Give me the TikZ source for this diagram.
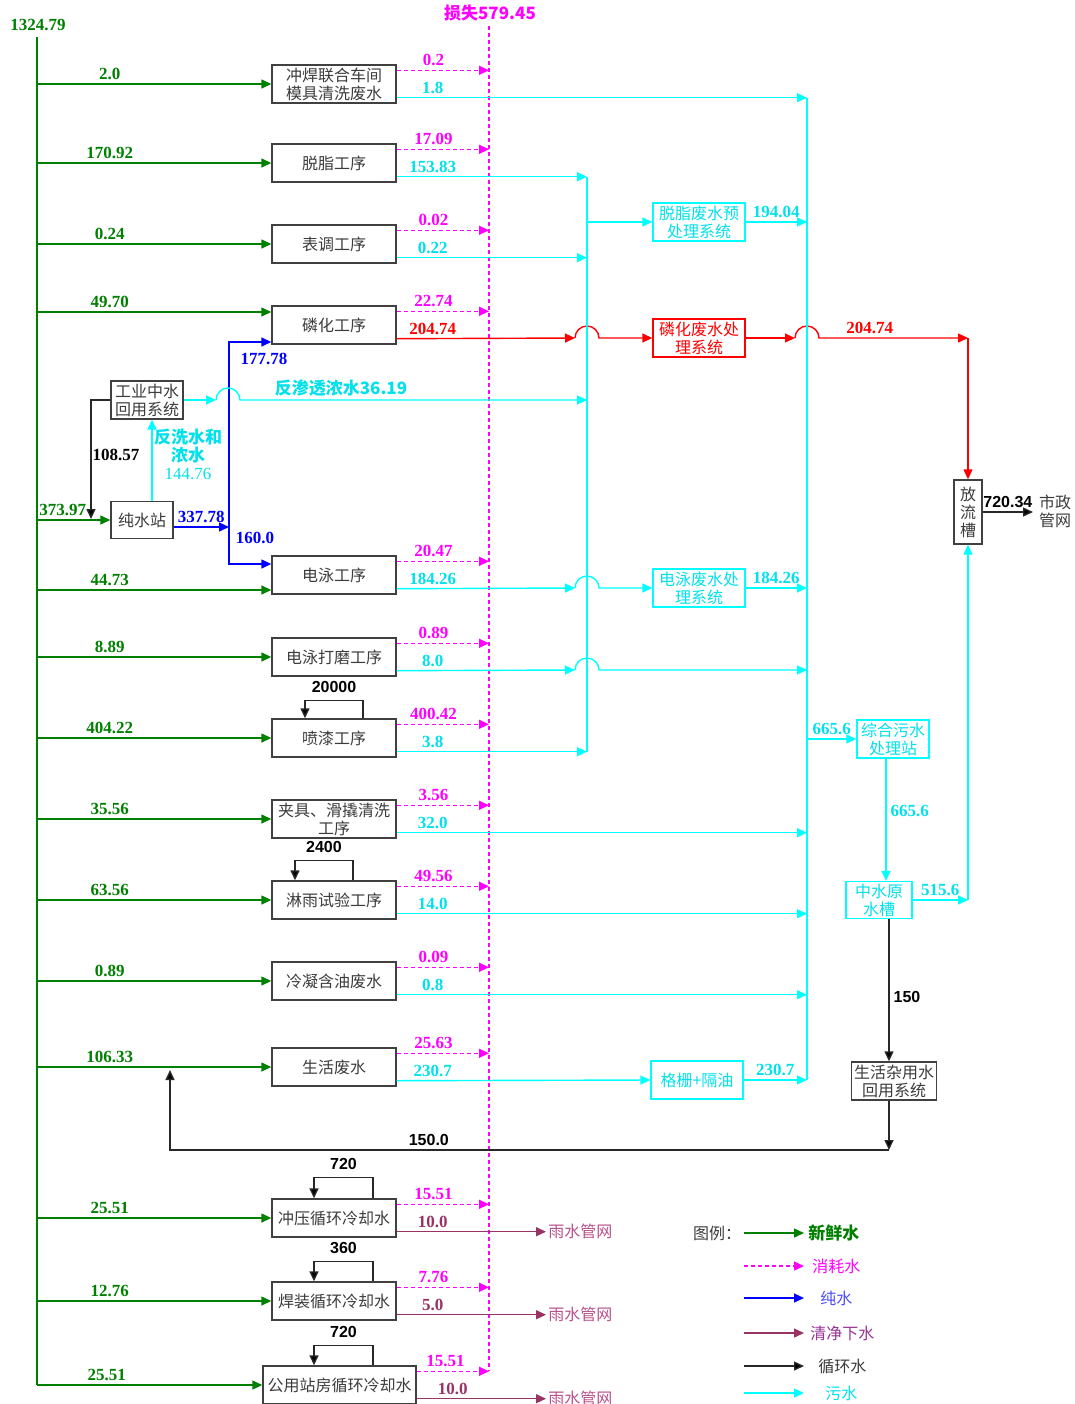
\documentclass[tikz,border=0pt]{standalone}
\usepackage{fontspec}
\setmainfont{Liberation Serif}
\setsansfont{Liberation Sans}
\newfontfamily\cjk{Noto Sans CJK SC}
\usetikzlibrary{arrows.meta}

\definecolor{cfresh}{RGB}{0,128,0}
\definecolor{closs}{RGB}{255,0,255}
\definecolor{cwaste}{RGB}{0,255,255}
\definecolor{cwastetxt}{RGB}{0,225,235}
\definecolor{cpure}{RGB}{0,0,255}
\definecolor{crain}{RGB}{153,51,102}
\definecolor{craintxt}{RGB}{185,80,140}
\definecolor{clegp}{RGB}{150,50,150}
\definecolor{ccyc}{RGB}{40,40,40}
\definecolor{cboxtxt}{RGB}{60,60,60}

\begin{document}
\begin{tikzpicture}[x=0.5pt, y=-0.5pt,
  flowtip/.style={-{Triangle[length=5pt,width=4.5pt]}},
  freshA/.style={draw=cfresh, line width=0.7pt, flowtip},
  lossA/.style={draw=closs, line width=0.7pt, dash pattern=on 2pt off 1.5pt, flowtip},
  wasteA/.style={draw=cwaste, line width=0.7pt, flowtip},
  redA/.style={draw=red, line width=0.7pt, flowtip},
  pureA/.style={draw=cpure, line width=0.7pt, flowtip},
  cycA/.style={draw=ccyc, line width=0.7pt, -{Triangle[length=5pt,width=4.5pt,fill=black]}},
  rainA/.style={draw=crain, line width=0.7pt, flowtip},
  box/.style={draw=black!75, line width=0.7pt, text=cboxtxt, font=\cjk\fontsize{8}{9}\selectfont,
    align=center, inner sep=0.5pt, minimum width=62pt, minimum height=19pt},
  wbox/.style={box, draw=cwaste, text=cwastetxt},
  rbox/.style={box, draw=red, text=red},
  lab/.style={font=\bfseries\fontsize{8.5}{9}\selectfont, inner sep=2pt},
  klab/.style={lab, text=black, font=\sffamily\bfseries\fontsize{8}{9}\selectfont},
  clab/.style={lab, align=center, font=\cjk\bfseries\fontsize{8.5}{9}\selectfont},
  txt/.style={text=cboxtxt, font=\cjk\fontsize{8}{9}\selectfont, align=center, inner sep=1pt}]

  \fill[white] (0,0) rectangle (1075,1404);
  \useasboundingbox (0,0) rectangle (1075,1404);

  \node[box] (p1) at (334,84) {冲焊联合车间\\模具清洗废水};
  \node[box] (p2) at (334,163) {脱脂工序};
  \node[box] (p3) at (334,244) {表调工序};
  \node[box] (p4) at (334,325) {磷化工序};
  \node[box] (p5) at (334,575) {电泳工序};
  \node[box] (p6) at (334,657) {电泳打磨工序};
  \node[box] (p7) at (334,738) {喷漆工序};
  \node[box] (p8) at (334,819) {夹具、滑撬清洗\\工序};
  \node[box] (p9) at (334,900) {淋雨试验工序};
  \node[box] (p10) at (334,981) {冷凝含油废水};
  \node[box] (p11) at (334,1067) {生活废水};
  \node[box] (c1) at (334,1218) {冲压循环冷却水};
  \node[box] (c2) at (334,1301) {焊装循环冷却水};
  \node[box, minimum width=76.5pt] (c3) at (339.5,1385) {公用站房循环冷却水};

  \node[box, minimum width=36pt] (gy) at (147,400) {工业中水\\回用系统};
  \node[box, minimum width=31pt, minimum height=18.5pt] (cs) at (142,520) {纯水站};
  \node[wbox, minimum width=46pt] (tz) at (699,222) {脱脂废水预\\处理系统};
  \node[rbox, minimum width=46pt] (lh) at (699,338) {磷化废水处\\理系统};
  \node[wbox, minimum width=46pt] (dy) at (699,588) {电泳废水处\\理系统};
  \node[wbox, minimum width=46pt] (gs) at (697,1080) {格栅+隔油};
  \node[wbox, minimum width=36pt] (zh) at (893,739) {综合污水\\处理站};
  \node[wbox, minimum width=33pt, minimum height=18.5pt] (zs) at (879,900) {中水原\\水槽};
  \node[box, minimum width=42.5pt, inner sep=0pt] (sz) at (894,1081) {生活杂用水\\回用系统};
  \node[box, minimum width=14pt, minimum height=32pt] (fl) at (968,512) {放\\流\\槽};

  \node[lab, text=cfresh] (tot) at (38,25) {1324.79};
  \node[clab, text=closs] (lossT) at (490,13) {损失579.45};
  \coordinate (src) at (37,37);
  \coordinate (lossx) at (489,0);
  \coordinate (cA) at (587,0);
  \coordinate (cB) at (807,0);
  \coordinate (bx) at (229,0);
  \coordinate (v1) at (886,0);
  \coordinate (v2) at (152,0);
  \coordinate (v3) at (889,0);

  \foreach \nm/\sh/\gv/\mv/\wv/\col in {
    p1/0/2.0/0.2/1.8/cwastetxt, p2/0/170.92/17.09/153.83/cwastetxt,
    p3/0/0.24/0.02/0.22/cwastetxt, p4/6.5/49.70/22.74/204.74/red,
    p5/-7.5/44.73/20.47/184.26/cwastetxt, p6/0/8.89/0.89/8.0/cwastetxt,
    p7/0/404.22/400.42/3.8/cwastetxt, p8/0/35.56/3.56/32.0/cwastetxt,
    p9/0/63.56/49.56/14.0/cwastetxt, p10/0/0.89/0.09/0.8/cwastetxt,
    p11/0/106.33/25.63/230.7/cwastetxt, c1/0/25.51/15.51/10.0/crain,
    c2/0/12.76/7.76/5.0/crain, c3/0/25.51/15.51/10.0/crain} {
    \coordinate (g\nm) at ([yshift=\sh pt]\nm.west);
    \coordinate (m\nm) at ([yshift=-3pt]\nm.north east);
    \coordinate (w\nm) at ([yshift=3pt]\nm.south east);
    \draw[freshA] (src |- g\nm) -- node[lab, text=cfresh, pos=0.31, above] (gl\nm) {\gv} (g\nm);
    \draw[lossA] (m\nm) -- node[lab, text=closs, pos=0.4, above] (ml\nm) {\mv} (m\nm -| lossx);
    \node[lab, text=\col, above] (wl\nm) at ([xshift=18pt]w\nm) {\wv};
  }

  \draw[cfresh, line width=0.7pt] (src) -- (src |- gc3);
  \draw[closs, line width=0.8pt, dash pattern=on 2pt off 1.5pt] (lossT.south -| lossx) -- (lossx |- mc3);

  \coordinate (cso) at ([yshift=-3.5pt]cs.east);
  \coordinate (b4) at ([yshift=-8.5pt]p4.west);
  \coordinate (b5) at ([yshift=5.5pt]p5.west);
  \draw[freshA] (src |- cs.west) -- node[lab, text=cfresh, pos=0.35, above] (l37397) {373.97} (cs.west);
  \draw[pureA] (cso) -- node[lab, text=cpure, above] (l33778) {337.78} (cso -| bx);
  \draw[pureA] (bx |- b5) |- (b4);
  \draw[pureA] (bx |- b4) |- (b5);
  \node[lab, text=cpure] (l17778) at (264,359) {177.78};
  \node[lab, text=cpure] (l1600) at (255,538) {160.0};

  \coordinate (k1) at (91,519);
  \draw[cycA] (gy.west) -| (k1);
  \node[lab, text=black] (l10857) at (116,455) {108.57};
  \draw[wasteA] (v2 |- cs.north) -- (v2 |- gy.south);
  \node[clab, text=cwastetxt] (lbw) at (188,454) {反洗水和\\浓水\\{\rmfamily\mdseries 144.76}};

  \coordinate (j0) at (216,400);
  \coordinate (j1) at (575,338);
  \coordinate (j2) at (795,338);
  \coordinate (j5) at (575,588);
  \coordinate (j6) at (575,670);

  \draw[wasteA] (gy.east) -- (j0);
  \draw[wasteA] (j0) arc[start angle=180, end angle=0, radius=6pt] -- (j0 -| cA);
  \node[clab, text=cwastetxt] (lro) at (341,388) {反渗透浓水36.19};

  \draw[redA] (wp4) -- (j1);
  \draw[redA] (j1) arc[start angle=180, end angle=0, radius=6pt] -- (lh.west);
  \draw[redA] (lh.east) -- (j2);
  \draw[redA] (j2) arc[start angle=180, end angle=0, radius=6pt]
    -- node[lab, text=red, pos=0.34, above] (l20474) {204.74} (fl.north |- j2);
  \draw[redA] (fl.north |- j2) -- (fl.north);

  \draw[cwaste, line width=0.7pt] (cA |- wp2) -- (cA |- wp7);
  \draw[cwaste, line width=0.7pt] (cB |- wp1) -- (cB |- gs.east);
  \draw[wasteA] (wp1) -- (wp1 -| cB);
  \draw[wasteA] (wp2) -- (wp2 -| cA);
  \draw[wasteA] (wp3) -- (wp3 -| cA);
  \draw[wasteA] (wp7) -- (wp7 -| cA);
  \draw[wasteA] (wp8) -- (wp8 -| cB);
  \draw[wasteA] (wp9) -- (wp9 -| cB);
  \draw[wasteA] (wp10) -- (wp10 -| cB);
  \draw[wasteA] (wp11) -- (gs.west);
  \draw[wasteA] (gs.east) -- node[lab, text=cwastetxt, above] (l2307) {230.7} (gs.east -| cB);
  \draw[wasteA] (cA |- tz.west) -- (tz.west);
  \draw[wasteA] (tz.east) -- node[lab, text=cwastetxt, above] (l19404) {194.04} (tz.east -| cB);
  \draw[wasteA] (wp5) -- (j5);
  \draw[wasteA] (j5) arc[start angle=180, end angle=0, radius=6pt] -- (dy.west);
  \draw[wasteA] (dy.east) -- node[lab, text=cwastetxt, above] (l18426) {184.26} (dy.east -| cB);
  \draw[wasteA] (wp6) -- (j6);
  \draw[wasteA] (j6) arc[start angle=180, end angle=0, radius=6pt] -- (j6 -| cB);
  \draw[wasteA] (cB |- zh.west) -- node[lab, text=cwastetxt, above] (l6656a) {665.6} (zh.west);
  \draw[wasteA] (v1 |- zh.south) -- node[lab, text=cwastetxt, pos=0.43, right] (l6656b) {665.6} (v1 |- zs.north);
  \draw[wasteA] (zs.east) -- node[lab, text=cwastetxt, above] (l5156) {515.6} (zs.east -| fl.south);
  \draw[wasteA] (zs.east -| fl.south) -- (fl.south);

  \coordinate (k2) at (889,1150);
  \coordinate (k3) at (170,1070);
  \coordinate (k4) at (1033,512);
  \draw[cycA] (v3 |- zs.south) -- node[klab, pos=0.55, right] (l150) {150} (v3 |- sz.north);
  \draw[cycA] (v3 |- sz.south) -- (k2);
  \draw[cycA] (k2) -| node[klab, pos=0.32, above] (l1500) {150.0} (k3);
  \draw[cycA] (fl.east) -- node[klab, above] (l72034) {720.34} (k4);
  \node[txt] (szw) at (1055,511) {市政\\管网};

  \draw[cycA] ([xshift=14.5pt]p7.north) -- ++(0,9pt) -- node[klab, above=1.5pt] (r7) {20000} ++(-29pt,0) -- ++(0,-9pt);
  \draw[cycA] ([xshift=9.5pt]p9.north) -- ++(0,10pt) -- node[klab, above=1.5pt] (r9) {2400} ++(-29pt,0) -- ++(0,-10pt);
  \draw[cycA] ([xshift=19.5pt]c1.north) -- ++(0,10.5pt) -- node[klab, above=1.5pt] (rc1) {720} ++(-29.5pt,0) -- ++(0,-10.5pt);
  \draw[cycA] ([xshift=19.5pt]c2.north) -- ++(0,10pt) -- node[klab, above=1.5pt] (rc2) {360} ++(-29.5pt,0) -- ++(0,-10pt);
  \draw[cycA] ([xshift=16.75pt]c3.north) -- ++(0,10pt) -- node[klab, above=1.5pt] (rc3) {720} ++(-29.5pt,0) -- ++(0,-10pt);

  \node[txt, text=craintxt, anchor=west] (rw1) at (546,1231) {雨水管网};
  \node[txt, text=craintxt, anchor=west] (rw2) at (546,1314) {雨水管网};
  \node[txt, text=craintxt, anchor=west] (rw3) at (546,1398) {雨水管网};
  \draw[rainA] (wc1) -- (wc1 -| rw1.west);
  \draw[rainA] (wc2) -- (wc2 -| rw2.west);
  \draw[rainA] (wc3) -- (wc3 -| rw3.west);

  \foreach \i/\yy in {1/1233, 2/1266, 3/1298, 4/1333, 5/1366, 6/1393} {
    \coordinate (la\i) at (744,\yy);
    \coordinate (lb\i) at (804,\yy);
  }
  \node[txt] (lg0) at (717,1233) {图例：};
  \draw[freshA] (la1) -- (lb1);
  \node[clab, text=cfresh, anchor=west, inner sep=1pt] (lg1) at (806,1233) {新鲜水};
  \draw[lossA] (la2) -- (lb2);
  \node[txt, text=closs, anchor=west] (lg2) at (810,1266) {消耗水};
  \draw[pureA] (la3) -- (lb3);
  \node[txt, text=cpure!70, anchor=west] (lg3) at (818,1298) {纯水};
  \draw[rainA] (la4) -- (lb4);
  \node[txt, text=clegp, anchor=west] (lg4) at (808,1333) {清净下水};
  \draw[cycA] (la5) -- (lb5);
  \node[txt, anchor=west] (lg5) at (816,1366) {循环水};
  \draw[wasteA] (la6) -- (lb6);
  \node[txt, text=cwastetxt, anchor=west] (lg6) at (823,1393) {污水};
\end{tikzpicture}
\end{document}
